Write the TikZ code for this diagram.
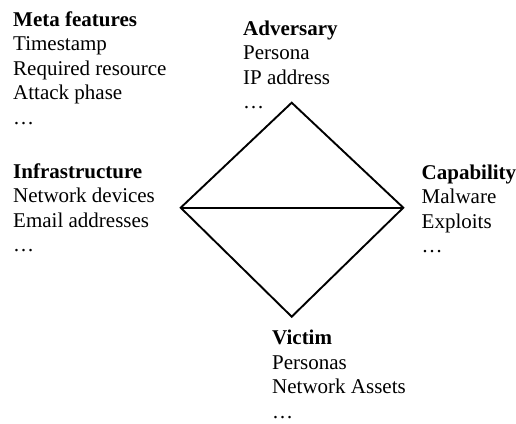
\documentclass[tikz,border=0pt]{standalone}
\usepackage{fontspec}
\setmainfont{Liberation Serif}
\usetikzlibrary{positioning}

\begin{document}
\begin{tikzpicture}[x=1pt, y=-1pt,
    lbl/.style={align=left, inner sep=0pt, anchor=base west,
      font=\fontsize{21}{24.5}\selectfont},
    edge/.style={line width=1.9pt, line join=miter}]
        \useasboundingbox (0,0) rectangle (516,423);

        % diamond corners
        \coordinate (top) at (291.7,102.7);
        \coordinate (left) at (180.7,207.7);
        \coordinate (right) at (403.3,207.7);
        \coordinate (bottom) at (291.7,316.7);

        \draw[edge] (top) -- (right) -- (bottom) -- (left) -- cycle;
        \draw[edge] (left) -- (right);

        % labels (placed at the baseline of their last line)
        \node[lbl] (meta) at (13,124) {\textbf{Meta features}\\Timestamp\\Required resource\\Attack phase\\\ldots};
        \node[lbl] (adv) at (243,108.5) {\textbf{Adversary}\\Persona\\IP address\\\ldots};
        \node[lbl] (infra) at (13,251.5) {\textbf{Infrastructure}\\Network devices\\Email addresses\\\ldots};
        \node[lbl] (capa) at (421.5,252.5) {\textbf{Capability}\\Malware\\Exploits\\\ldots};
        \node[lbl] (victim) at (272,418) {\textbf{Victim}\\Personas\\Network Assets\\\ldots};
      \end{tikzpicture}
\end{document}
